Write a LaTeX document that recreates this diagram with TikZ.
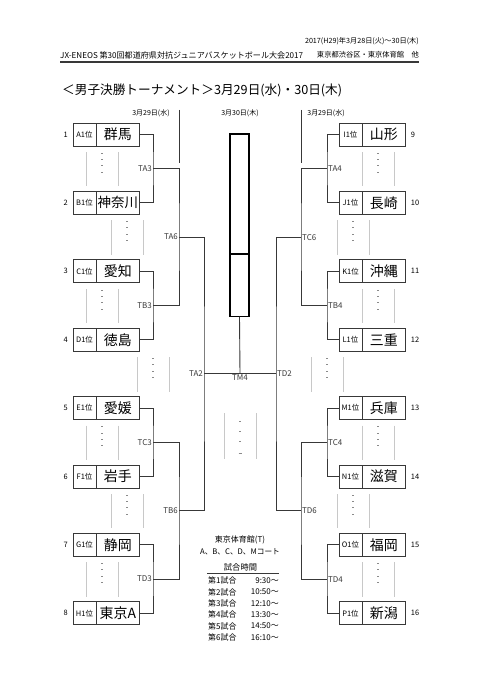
\documentclass[tikz,border=0pt]{standalone}
\usepackage{fontspec}
\setmainfont{Noto Sans CJK JP}
\usetikzlibrary{positioning}

\definecolor{linegray}{HTML}{383838}
\definecolor{sepgray}{HTML}{C8C8C8}
\definecolor{dashgray}{HTML}{8A8A8A}

\tikzset{
  rankbox/.style={draw=linegray, line width=0.9pt, minimum width=23, minimum height=23,
    inner sep=0pt, outer sep=0pt, font=\fontsize{7.5}{8}\selectfont},
  namebox/.style={draw=linegray, line width=0.9pt, minimum width=44, minimum height=23,
    inner sep=0pt, outer sep=0pt, font=\fontsize{14}{14}\selectfont},
  seed/.style={inner sep=0pt, font=\fontsize{7.5}{8}\selectfont},
  matchlbl/.style={inner sep=1pt, font=\fontsize{8}{8}\selectfont, text=linegray},
  bracket/.style={draw=linegray, line width=0.9pt},
  daylbl/.style={inner sep=0pt, font=\fontsize{7}{8}\selectfont},
  info/.style={inner sep=0pt, font=\fontsize{8}{9}\selectfont},
  sepline/.style={draw=sepgray, line width=0.7pt},
  sepdash/.style={draw=dashgray, line width=0.6pt}
}

\begin{document}
\begin{tikzpicture}[x=1bp, y=-1bp]
    \useasboundingbox[fill=white] (0,0) rectangle (481,680);
    % ヘッダー
    \node[info, anchor=east, font=\fontsize{7.2}{8}\selectfont] (date) at (419,41) {2017(H29)年3月28日(火)～30日(木)};
    \node[info, anchor=west, font=\fontsize{8.1}{9}\selectfont] (event) at (60,55) {JX-ENEOS 第30回都道府県対抗ジュニアバスケットボール大会2017};
    \node[info, anchor=east, font=\fontsize{7.3}{8}\selectfont] (place) at (419,55) {東京都渋谷区・東京体育館　他};
    \draw[line width=1.3pt, linegray] (60,62) -- (419,62);
    % タイトル
    \node[inner sep=0pt, anchor=west, font=\fontsize{12.7}{13}\selectfont] (title) at (62,90) {＜男子決勝トーナメント＞3月29日(水)・30日(木)};
    % 日付
    \node[daylbl] (dayL) at (151,113) {3月29日(水)};
    \node[daylbl] (dayC) at (240,113) {3月30日(木)};
    \node[daylbl] (dayR) at (326,113) {3月29日(水)};
    \draw[bracket, line width=0.7pt] (179,110) -- (179,163);
    \draw[bracket, line width=0.7pt] (301,110) -- (301,163);

    % 左ブロック
    \node[rankbox] (rA) at (84.5,134.5) {A1位};
    \node[namebox, right=0pt of rA] (gunma) {群馬};
    \node[rankbox] (rB) at (84.5,202.9) {B1位};
    \node[namebox, right=0pt of rB, font=\fontsize{13.5}{14}\selectfont] (kanagawa) {神奈川};
    \node[rankbox] (rC) at (84.5,271.3) {C1位};
    \node[namebox, right=0pt of rC] (aichi) {愛知};
    \node[rankbox] (rD) at (84.5,339.7) {D1位};
    \node[namebox, right=0pt of rD] (tokushima) {徳島};
    \node[rankbox] (rE) at (84.5,408.1) {E1位};
    \node[namebox, right=0pt of rE] (ehime) {愛媛};
    \node[rankbox] (rF) at (84.5,476.5) {F1位};
    \node[namebox, right=0pt of rF] (iwate) {岩手};
    \node[rankbox] (rG) at (84.5,544.9) {G1位};
    \node[namebox, right=0pt of rG] (shizuoka) {静岡};
    \node[rankbox] (rH) at (84.5,613.3) {H1位};
    \node[namebox, right=0pt of rH] (tokyoA) {東京A};
    \node[seed, left=5pt of rA] (num1) {1};
    \node[seed, left=5pt of rB] (num2) {2};
    \node[seed, left=5pt of rC] (num3) {3};
    \node[seed, left=5pt of rD] (num4) {4};
    \node[seed, left=5pt of rE] (num5) {5};
    \node[seed, left=5pt of rF] (num6) {6};
    \node[seed, left=5pt of rG] (num7) {7};
    \node[seed, left=5pt of rH] (num8) {8};

    % 右ブロック
    \node[rankbox] (rI) at (350.5,134.5) {I1位};
    \node[namebox, right=0pt of rI] (yamagata) {山形};
    \node[rankbox] (rJ) at (350.5,202.9) {J1位};
    \node[namebox, right=0pt of rJ] (nagasaki) {長崎};
    \node[rankbox] (rK) at (350.5,271.3) {K1位};
    \node[namebox, right=0pt of rK] (okinawa) {沖縄};
    \node[rankbox] (rL) at (350.5,339.7) {L1位};
    \node[namebox, right=0pt of rL] (mie) {三重};
    \node[rankbox] (rM) at (350.5,408.1) {M1位};
    \node[namebox, right=0pt of rM] (hyogo) {兵庫};
    \node[rankbox] (rN) at (350.5,476.5) {N1位};
    \node[namebox, right=0pt of rN] (shiga) {滋賀};
    \node[rankbox] (rO) at (350.5,544.9) {O1位};
    \node[namebox, right=0pt of rO] (fukuoka) {福岡};
    \node[rankbox] (rP) at (350.5,613.3) {P1位};
    \node[namebox, right=0pt of rP] (niigata) {新潟};
    \node[seed, right=5pt of yamagata] (num9) {9};
    \node[seed, right=5pt of nagasaki] (num10) {10};
    \node[seed, right=5pt of okinawa] (num11) {11};
    \node[seed, right=5pt of mie] (num12) {12};
    \node[seed, right=5pt of hyogo] (num13) {13};
    \node[seed, right=5pt of shiga] (num14) {14};
    \node[seed, right=5pt of fukuoka] (num15) {15};
    \node[seed, right=5pt of niigata] (num16) {16};

    % 試合の分岐点
    \coordinate (TA3) at (153,168.7);
    \coordinate (TB3) at (153,305.5);
    \coordinate (TC3) at (153,442.3);
    \coordinate (TD3) at (153,579.1);
    \coordinate (TA6) at (179,237.1);
    \coordinate (TB6) at (179,510.7);
    \coordinate (TA2) at (204,373.9);
    \coordinate (TM4) at (240,373.9);
    \coordinate (TD2) at (276,373.9);
    \coordinate (TC6) at (301,237.1);
    \coordinate (TD6) at (301,510.7);
    \coordinate (TA4) at (327,168.7);
    \coordinate (TB4) at (327,305.5);
    \coordinate (TC4) at (327,442.3);
    \coordinate (TD4) at (327,579.1);

    % 決勝の枠
    \node[draw=black, line width=1.6pt, minimum width=19, minimum height=120, inner sep=0pt, outer sep=0pt] (champ) at (239.5,194) {};
    \node[draw=black, line width=1.6pt, minimum width=19, minimum height=63, inner sep=0pt, outer sep=0pt, below=0pt of champ] (runner) {};

    % 左のトーナメント線
    \draw[bracket] (gunma.east) -| (TA3) |- (kanagawa.east);
    \draw[bracket] (aichi.east) -| (TB3) |- (tokushima.east);
    \draw[bracket] (ehime.east) -| (TC3) |- (iwate.east);
    \draw[bracket] (shizuoka.east) -| (TD3) |- (tokyoA.east);
    \draw[bracket] (TA3) -| (TA6) |- (TB3);
    \draw[bracket] (TC3) -| (TB6) |- (TD3);
    \draw[bracket] (TA6) -| (TA2) |- (TB6);
    % 右のトーナメント線
    \draw[bracket] (rI.west) -| (TA4) |- (rJ.west);
    \draw[bracket] (rK.west) -| (TB4) |- (rL.west);
    \draw[bracket] (rM.west) -| (TC4) |- (rN.west);
    \draw[bracket] (rO.west) -| (TD4) |- (rP.west);
    \draw[bracket] (TA4) -| (TC6) |- (TB4);
    \draw[bracket] (TC4) -| (TD6) |- (TD4);
    \draw[bracket] (TC6) -| (TD2) |- (TD6);
    % 決勝
    \draw[bracket] (TA2) -- (TD2);
    \draw[bracket] (runner.south) -- (TM4);

    % 試合番号
    \node[matchlbl, anchor=east] (lTA3) at (TA3) {TA3};
    \node[matchlbl, anchor=east] (lTB3) at (TB3) {TB3};
    \node[matchlbl, anchor=east] (lTC3) at (TC3) {TC3};
    \node[matchlbl, anchor=east] (lTD3) at (TD3) {TD3};
    \node[matchlbl, anchor=east] (lTA6) at (TA6) {TA6};
    \node[matchlbl, anchor=east] (lTB6) at (TB6) {TB6};
    \node[matchlbl, anchor=east] (lTA2) at (TA2) {TA2};
    \node[matchlbl, anchor=north] (lTM4) at (TM4) {TM4};
    \node[matchlbl, anchor=west] (lTD2) at (TD2) {TD2};
    \node[matchlbl, anchor=west] (lTC6) at (TC6) {TC6};
    \node[matchlbl, anchor=west] (lTD6) at (TD6) {TD6};
    \node[matchlbl, anchor=west] (lTA4) at (TA4) {TA4};
    \node[matchlbl, anchor=west] (lTB4) at (TB4) {TB4};
    \node[matchlbl, anchor=west] (lTC4) at (TC4) {TC4};
    \node[matchlbl, anchor=west] (lTD4) at (TD4) {TD4};

    % 区切り（点線）
    \foreach \cx/\yb in {102/146, 127/214.4, 102/282.8, 153/351.2, 102/419.6, 127/488, 102/556.4,
                         378/146, 353/214.4, 378/282.8, 327/351.2, 378/419.6, 353/488, 378/556.4} {
        \draw[sepline] (\cx-16,\yb+6) -- (\cx-16,\yb+40.4);
        \draw[sepline] (\cx+16,\yb+6) -- (\cx+16,\yb+40.4);
        \foreach \dy in {7,13.3,19.7,26}
            \draw[sepdash] (\cx-1,\yb+\dy) -- (\cx+1,\yb+\dy);
    }
    \draw[sepline] (224,413) -- (224,459);
    \draw[sepline] (256,413) -- (256,459);
    \foreach \dy in {421,431,441}
        \draw[sepdash] (239,\dy) -- (241,\dy);
    \draw[sepdash, line width=0.8pt] (238.5,453) -- (241.5,453);

    % 会場と試合時間
    \node[info] (venue) at (240,540) {東京体育館(T)};
    \node[info, font=\fontsize{7.7}{8}\selectfont] (courts) at (240,552) {A、B、C、D、Mコート};
    \node[info, font=\fontsize{8.3}{9}\selectfont] (schedhead) at (240.5,567) {試合時間};
    \draw[line width=0.8pt, linegray] (207,573) -- (279,573);
    \node[info, anchor=west] (g1) at (208,580.5) {第1試合};
    \node[info, anchor=east] (time1) at (279,580.5) {9:30～};
    \node[info, anchor=west] (g2) at (208,592) {第2試合};
    \node[info, anchor=east] (time2) at (279,592) {10:50～};
    \node[info, anchor=west] (g3) at (208,603.3) {第3試合};
    \node[info, anchor=east] (time3) at (279,603.3) {12:10～};
    \node[info, anchor=west] (g4) at (208,614.6) {第4試合};
    \node[info, anchor=east] (time4) at (279,614.6) {13:30～};
    \node[info, anchor=west] (g5) at (208,626) {第5試合};
    \node[info, anchor=east] (time5) at (279,626) {14:50～};
    \node[info, anchor=west] (g6) at (208,637.3) {第6試合};
    \node[info, anchor=east] (time6) at (279,637.3) {16:10～};
\end{tikzpicture}
\end{document}
